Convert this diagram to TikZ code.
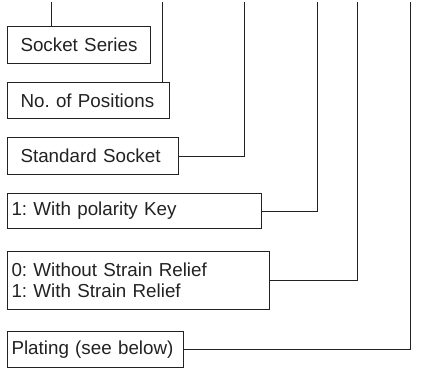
\documentclass[tikz,border=0pt]{standalone}
\usepackage{fontspec}
\setmainfont{Liberation Sans}
\frenchspacing
\definecolor{ink}{HTML}{222222}
\begin{document}
\begin{tikzpicture}[x=1pt,y=-1pt,
  box/.style={draw=ink, text=ink, line width=1pt, anchor=north west, align=left,
    font=\fontsize{18.8pt}{21pt}\selectfont\frenchspacing, inner ysep=0pt},
  wide/.style={inner xsep=13pt},
  narrow/.style={inner xsep=4pt},
  conn/.style={draw=ink, line width=1pt}]
\useasboundingbox (0,0) rectangle (433,370);
\node[box, wide, minimum width=143pt, minimum height=37pt, text width=117pt] (b1) at (7,26) {\mbox{Socket Series}};
\node[box, wide, minimum width=162pt, minimum height=36pt, text width=136pt] (b2) at (7,82) {\mbox{No. of Positions}};
\node[box, wide, minimum width=171pt, minimum height=37pt, text width=145pt] (b3) at (7,137) {\mbox{Standard Socket}};
\node[box, narrow, minimum width=254pt, minimum height=35pt, text width=246pt] (b4) at (7,193) {\mbox{1: With polarity Key}};
\node[box, narrow, minimum width=262pt, minimum height=58pt, text width=254pt] (b5) at (7,251) {\mbox{0: Without Strain Relief}\\\mbox{1: With Strain Relief}};
\node[box, narrow, minimum width=176pt, minimum height=36pt, text width=168pt] (b6) at (7,331) {\mbox{Plating (see below)}};
\coordinate (t1) at (51,2);
\coordinate (t2) at (162,2);
\coordinate (t3) at (244,2);
\coordinate (t4) at (317,2);
\coordinate (t5) at (357,2);
\coordinate (t6) at (410,2);
\draw[conn] (t1) -- (t1 |- b1.north);
\draw[conn] (t2) -- (t2 |- b2.north);
\draw[conn] (b3.east) -- (b3.east -| t3) -- (t3);
\draw[conn] (b4.east) -- (b4.east -| t4) -- (t4);
\draw[conn] (b5.east) -- (b5.east -| t5) -- (t5);
\draw[conn] (b6.east) -- (b6.east -| t6) -- (t6);
\end{tikzpicture}
\end{document}
